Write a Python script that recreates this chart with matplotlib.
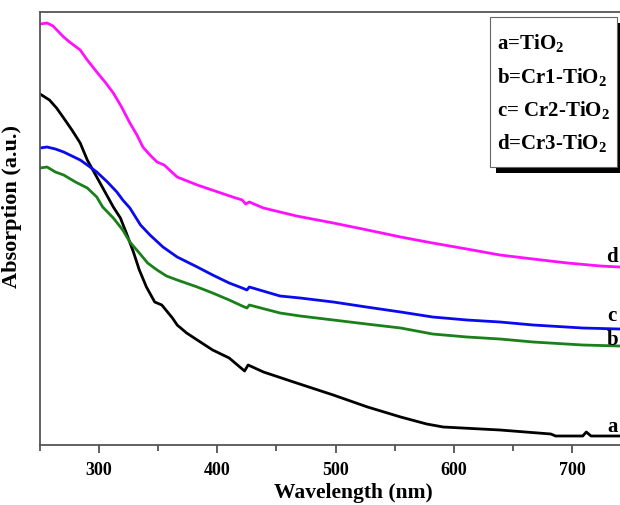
import matplotlib
matplotlib.use("Agg")
import matplotlib.pyplot as plt
from matplotlib.patches import Rectangle
from matplotlib.ticker import MultipleLocator

plt.rcParams["font.family"] = ["Liberation Serif", "DejaVu Serif"]
plt.rcParams["font.weight"] = "bold"
plt.rcParams["mathtext.fontset"] = "custom"
plt.rcParams["mathtext.rm"] = "Liberation Serif:bold"
plt.rcParams["mathtext.bf"] = "Liberation Serif:bold"
plt.rcParams["mathtext.default"] = "bf"

# a = TiO2 (black)
wl_a = [250, 258, 264, 270, 277, 284, 290, 298, 305, 312, 318, 323, 329, 334,
        340, 347, 353, 362, 366, 374, 383, 396, 410, 423, 426, 439, 467, 498,
        527, 555, 577, 591, 639, 682, 686, 709, 712, 716, 740]
abs_a = [1.755, 1.725, 1.685, 1.635, 1.575, 1.51, 1.425, 1.34, 1.265, 1.19,
         1.135, 1.06, 0.965, 0.875, 0.79, 0.715, 0.70, 0.635, 0.60, 0.56, 0.525,
         0.475, 0.435, 0.37, 0.40, 0.365, 0.31, 0.25, 0.19, 0.14, 0.105, 0.09,
         0.075, 0.055, 0.045, 0.045, 0.065, 0.045, 0.045]

# b = Cr1-TiO2 (green)
wl_b = [250, 256, 263, 270, 280, 290, 298, 303, 312, 320, 326, 334, 341, 349,
        357, 366, 383, 396, 410, 421, 425, 427, 453, 470, 498, 526, 555, 582,
        611, 639, 667, 709, 740]
abs_b = [1.385, 1.39, 1.365, 1.35, 1.315, 1.285, 1.24, 1.19, 1.135, 1.075,
         1.015, 0.96, 0.91, 0.875, 0.845, 0.825, 0.79, 0.76, 0.725, 0.695, 0.685,
         0.70, 0.66, 0.645, 0.625, 0.605, 0.585, 0.555, 0.54, 0.53, 0.515, 0.50,
         0.495]

# c = Cr2-TiO2 (blue)
wl_c = [250, 256, 263, 270, 277, 284, 290, 298, 307, 315, 320, 326, 335, 343,
        354, 366, 383, 396, 410, 421, 425, 427, 453, 470, 498, 526, 555, 582,
        611, 639, 667, 709, 740]
abs_c = [1.485, 1.49, 1.48, 1.465, 1.445, 1.425, 1.40, 1.365, 1.315, 1.265,
         1.225, 1.185, 1.10, 1.05, 0.99, 0.94, 0.89, 0.85, 0.81, 0.785, 0.775,
         0.79, 0.745, 0.735, 0.715, 0.69, 0.665, 0.64, 0.625, 0.615, 0.60, 0.585,
         0.58]

# d = Cr3-TiO2 (magenta)
wl_d = [250, 256, 261, 270, 275, 284, 290, 298, 305, 312, 319, 326, 332, 337,
        343, 349, 355, 366, 383, 413, 421, 424, 427, 439, 467, 498, 527, 555,
        582, 611, 639, 667, 696, 724, 740]
abs_d = [2.105, 2.11, 2.095, 2.04, 2.015, 1.975, 1.925, 1.865, 1.815, 1.76,
         1.69, 1.61, 1.55, 1.49, 1.45, 1.415, 1.40, 1.34, 1.30, 1.24, 1.225,
         1.205, 1.215, 1.185, 1.145, 1.11, 1.075, 1.04, 1.01, 0.98, 0.95, 0.93,
         0.91, 0.895, 0.89]

curve_tags = ["a", "b", "c", "d"]
tag_y = [0.09, 0.525, 0.645, 0.94]
legend_lines = [r"a=TiO$_2$", r"b=Cr1-TiO$_2$", r"c= Cr2-TiO$_2$", r"d=Cr3-TiO$_2$"]

W, H = 620, 505
fig = plt.figure(figsize=(W / 100, H / 100), dpi=100)
ax = fig.add_axes([40 / W, (H - 445) / H, 1 - 40 / W, (445 - 12) / H])

ax.plot(wl_a, abs_a, color="black", lw=2.0)
ax.plot(wl_b, abs_b, color="#1a801a", lw=2.0)
ax.plot(wl_c, abs_c, color="#0a0aee", lw=2.0)
ax.plot(wl_d, abs_d, color="#ff10ff", lw=2.0)

ax.set_xlim(250, 740.5)
ax.set_ylim(0, 2.165)

for tag, y in zip(curve_tags, tag_y):
    ax.text(734, y, tag, fontsize=15, fontweight="bold", ha="center", va="center")

ax.xaxis.set_major_locator(MultipleLocator(100))
ax.xaxis.set_minor_locator(MultipleLocator(50))
ax.tick_params(axis="x", which="major", direction="out", length=6, width=1.2,
               color="#444444", labelsize=13, pad=6)
ax.tick_params(axis="x", which="minor", direction="out", length=4, width=1.2,
               color="#444444")
ax.set_yticks([])
for lbl in ax.get_xticklabels():
    lbl.set_fontweight("bold")

for side in ["left", "bottom", "top"]:
    ax.spines[side].set_color("#555555")
    ax.spines[side].set_linewidth(1.3)
ax.spines["right"].set_visible(False)

ax.set_xlabel("Wavelength (nm)", fontsize=15.5, fontweight="bold")
ax.xaxis.set_label_coords((353 - 40) / (W - 40), -38 / 433)
ax.set_ylabel("Absorption (a.u.)", fontsize=16, fontweight="bold")
ax.yaxis.set_label_coords(-18 / (W - 40), 0.55)

# legend box with shadow, in figure pixels
fig.patches.append(Rectangle((496 / W, (H - 173) / H), 130 / W, 150 / H,
                             transform=fig.transFigure, facecolor="black",
                             edgecolor="none", zorder=5))
fig.patches.append(Rectangle((490 / W, (H - 167) / H), 127 / W, 150 / H,
                             transform=fig.transFigure, facecolor="white",
                             edgecolor="#666666", lw=0.8, zorder=6))
for i, line in enumerate(legend_lines):
    fig.text(497 / W, (H - 43 - i * 33.5) / H, line, fontsize=15,
             fontweight="bold", ha="left", va="center", zorder=7)

fig.savefig("out.png", dpi=100)
